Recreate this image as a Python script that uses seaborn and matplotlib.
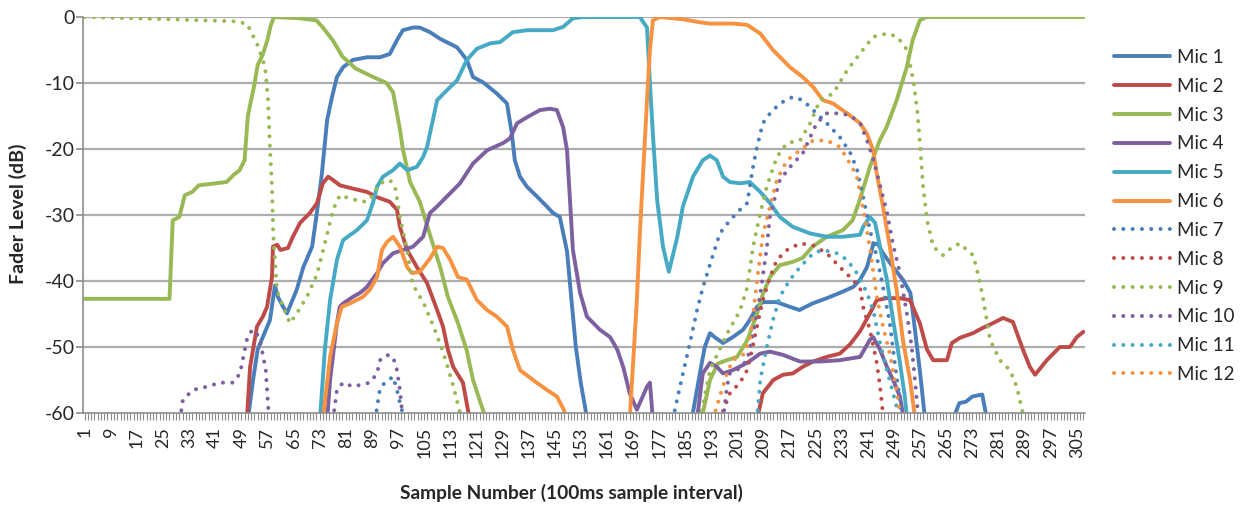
import numpy as np
import pandas as pd
import matplotlib
matplotlib.use("Agg")
import matplotlib.pyplot as plt
from matplotlib.lines import Line2D
import seaborn as sns

nan = np.nan

# ---------------- data (sample number, fader level dB); NaN separates segments ----------------
mic1_x = [51, 52.6, 54, 55.6, 57.8, 59.3, 60.2, 61.8, 63, 66, 68, 70.7, 72.2, 73.7, 75.3, 76.8, 78.3, 80.2, 83.2,
          87.5, 91.5, 94.5, 96.7, 98.5, 101.6, 103.7, 106.8, 109.9, 115.1, 118.1, 120, 123.1, 127.3, 130.4, 131.9,
          132.8, 134.4, 136.5, 139.6, 142.6, 144.5, 146.6, 148.8, 150, 151.5, 153, 155, nan,
          187, 189.5, 191, 192.6, 194, 196.6, 199.6, 202.7, 204.8, 207, 208.8, 213, 217, 220, 224, 228.4, 232.4,
          236.5, 238.6, 240.7, 242.6, 244, 245.6, 248.7, 251.7, 254, 255.4, 257, 258.5, nan,
          267, 269, 271, 273, 276, 277.5]
mic1_y = [-61, -55, -50.4, -48.5, -45.9, -40.7, -42.4, -43.9, -44.9, -41.3, -37.9, -34.8, -29.5, -23.7, -15.6, -12.1,
          -9.1, -7.6, -6.5, -6.1, -6.1, -5.6, -3.5, -2, -1.6, -1.6, -2.3, -3.3, -4.6, -6.5, -9.1, -9.9, -11.6, -13.1,
          -17.7, -21.7, -24.2, -25.7, -27.2, -28.7, -29.7, -30.3, -35.5, -42, -50, -55.4, -61, nan,
          -61, -54, -50, -47.9, -48.5, -49.4, -48.5, -47.4, -45.9, -43.9, -43.2, -43.2, -43.9, -44.4, -43.4, -42.6,
          -41.8, -40.9, -39.8, -37.9, -34.5, -34.3, -35.8, -37.9, -39.8, -41.8, -47.4, -54, -61, nan,
          -61, -58.5, -58.3, -57.5, -57.2, -61]

mic2_x = [50.7, 51.7, 53.8, 55.6, 56.9, 58.4, 58.7, 60, 61, 63.3, 64.8, 67, 70, 72.2, 74, 75.6, 77.1, 79.2, 83.2,
          87.5, 90.6, 94.5, 96.7, 97.6, 99.8, 102.8, 105.9, 109, 110.8, 112.3, 113.9, 116.9, 119, nan,
          207, 208.8, 212, 215, 218, 221, 224.2, 228.4, 232.4, 235.5, 238.6, 241.6, 243.7, 246.8, 250.8, 253.9,
          256.9, 259.1, 261, 265.2, 266.7, 269.2, 273.2, 276.2, 278.4, 282.4, 285.4, 288.5, 290.6, 292.2, 295.8,
          299.8, 302.9, 305, 307]
mic2_y = [-61, -53, -46.9, -45.4, -43.9, -39.4, -34.8, -34.5, -35.3, -35, -33.3, -31.2, -29.7, -28.2, -25.2, -24.2,
          -24.7, -25.5, -26, -26.5, -27.3, -28, -29.2, -31.8, -35.3, -37.9, -40.3, -44.4, -46.9, -50.4, -53, -55.4,
          -61, nan,
          -61, -57, -55, -54.2, -54, -53, -52.2, -51.5, -51, -49.6, -47.6, -44.9, -42.9, -42.6, -42.6, -42.9, -46.4,
          -50.4, -52, -52, -49.4, -48.6, -47.9, -47.1, -46.6, -45.6, -46.2, -50.4, -53, -54.2, -52, -50, -50, -48.5,
          -47.7]

mic3_x = [1, 27, 28, 30, 31.7, 34, 36, 44.5, 46.5, 48.5, 50, 51, 52, 53, 54, 55.5, 57, 58, 59, 67, 72, 74, 77, 80,
          84, 89, 93.5, 95.5, 97.6, 98.5, 100.7, 103.7, 106.8, 110, 112.3, 115.4, 118, 120, 122, 124, nan,
          190, 192.6, 195, 197.8, 200.9, 204, 207, 208.8, 211, 214, 218, 221, 224, 228.4, 233.3, 236.3, 238.5,
          241.6, 244.6, 246.7, 249.8, 252.9, 254.7, 256.9, 259, 307]
mic3_y = [-42.7, -42.7, -30.8, -30.3, -27, -26.5, -25.5, -25, -24, -23.2, -21.7, -15, -12.6, -10.3, -7.3, -5.8,
          -3.5, -1.3, 0, -0.2, -0.5, -1.6, -3.5, -6, -7.8, -9, -10, -11.4, -17, -20, -25, -28, -33, -38, -42.4,
          -46.4, -50.4, -55, -58, -61, nan,
          -61, -55, -52.5, -52, -51.5, -49, -45, -42, -39.4, -37.6, -37.1, -36.5, -34.8, -33.3, -32.3, -30.8,
          -27.7, -22.7, -18.7, -16.7, -12.6, -7.6, -3.5, -0.5, 0, 0]

mic4_x = [75.3, 76.2, 78.3, 79.2, 80.2, 83.2, 85.4, 87.5, 90.6, 92.4, 95.5, 98.5, 101.6, 104.7, 106.8, 109, 112,
          116, 120, 124.3, 129.2, 131.3, 133.5, 136.5, 140.5, 143.6, 145.7, 147.6, 148.8, 149.7, 150.6, 152.8,
          154.9, 158.9, 162, 164.2, 166, 168, 170.2, 171.1, 173.3, 174.2, 175.1, nan,
          188.6, 190.4, 192.6, 194.7, 196.6, 199.6, 204, 208, 211, 215, 220.2, 226.3, 232.4, 238.6, 241.6, 242.6,
          244.7, 246.8, 248.7, 250.8, 252]
mic4_y = [-61, -55, -46.4, -43.9, -43.4, -42.4, -41.8, -40.9, -38.8, -37.3, -35.8, -35.3, -34.8, -33.3, -29.7,
          -28.7, -27.2, -25.2, -22.2, -20.2, -19.1, -18.4, -16.1, -15.2, -14.1, -13.9, -14.1, -16.7, -20.2, -27.7,
          -35.3, -41.8, -45.4, -47.4, -48.5, -50.4, -53, -57, -59.5, -58.5, -56, -55.4, -61, nan,
          -61, -54, -52.4, -53, -54, -53.5, -52.4, -51, -50.7, -51.2, -52.2, -52.2, -52, -51.5, -48.9, -48.5,
          -50.4, -53, -55, -57.5, -61]

mic5_x = [73.1, 74.6, 76.2, 78.3, 80.2, 84.4, 87.5, 89.3, 90.6, 92.4, 95.5, 97.6, 99.8, 102.8, 104.7, 105.9,
          107.7, 109, 112, 115.1, 118.1, 121.2, 125.2, 128.3, 132.2, 136.5, 144.5, 147.6, 150.6, 153.7, 171.1,
          173.3, 174.2, 175.1, 176.4, 178.2, 180, 182.6, 184.3, 187.4, 190.4, 192.6, 194.7, 196.6, 198.7, 201.8,
          204.8, 208, 211, 214, 218, 223.3, 228.4, 233.3, 238.6, 239.5, 241.6, 243.2, 244.7, 246.8, 248.7, 250.8,
          252.3, 253]
mic5_y = [-61, -50.4, -42.9, -36.8, -33.8, -32.3, -30.8, -28.2, -25.7, -24.2, -23.2, -22.2, -23.2, -22.7, -21.2,
          -19.7, -15.6, -12.6, -11.1, -9.6, -6.5, -4.8, -4, -3.8, -2.3, -2, -2, -1.5, -0.2, 0, 0, -1.6, -10,
          -17.7, -27.7, -34.8, -38.6, -33.3, -28.7, -24.2, -21.7, -21, -21.7, -24.2, -25, -25.2, -25, -26.5,
          -28.2, -30.3, -31.8, -32.8, -33.3, -33.3, -33, -31.8, -30.3, -31.2, -34.8, -39.8, -45.9, -52.4, -57.5,
          -61]

mic6_x = [74, 76.2, 78.3, 79.8, 82.3, 86.3, 88.4, 90.6, 92.1, 93.6, 95.5, 97.6, 99.8, 101.3, 103.7, 106.8, 109,
          110.8, 113, 115.4, 118.1, 121.2, 124.3, 127.3, 130.4, 132.2, 134.4, 138.4, 142.6, 145.7, 147.6, 149, nan,
          168, 170.2, 171.1, 173.3, 174.2, 175.1, 177.3, 184.3, 189.5, 192.6, 199.6, 204, 208, 211.9, 217.1, 221,
          224.2, 227.2, 230.3, 234.6, 238.6, 240.7, 242.6, 243.7, 245.6, 247.7, 249.9, 251.7, 253.9, 255.5]
mic6_y = [-61, -51.5, -46.4, -43.9, -43.4, -42.4, -41.3, -39.4, -35.3, -34.1, -33.3, -34.8, -37.9, -38.8, -38.6,
          -36.6, -34.8, -35, -36.8, -39.4, -39.8, -42.9, -44.4, -45.4, -46.9, -50.4, -53.5, -55, -56.5, -57.5,
          -59.3, -61, nan,
          -61, -42.9, -33, -12.6, -5, -0.5, 0, -0.35, -0.8, -1, -1, -1.2, -2.5, -5, -7.6, -9.1, -10.6, -12.6,
          -13.1, -14.6, -16.1, -17.7, -20.2, -23.7, -28.7, -34.8, -41.8, -48.9, -55, -61]

mic7_x = [90, 91.5, 93, 95.5, 96.7, 97.6, 99, nan,
          181.2, 183.4, 186.4, 188.6, 190.4, 192.6, 195.6, 198.7, 201.8, 204, 204.8, 205.8, 207, 208.8, 211, 214,
          218, 221, 224.2, 228.4, 232.4, 235.5, 237.6, 239.5, 241.6, 243.7, 245.6, 247.7, 249.2, 250.8, 251.5]
mic7_y = [-61, -56.3, -55.4, -54.5, -56.5, -58.5, -61, nan,
          -61, -56, -49.5, -44.5, -41, -37.5, -32.8, -30.8, -29.2, -28.2, -25.7, -22.7, -19.7, -16.1, -14.6,
          -13.1, -12.1, -12.6, -14.1, -16.1, -18.2, -20.5, -23, -27.2, -32.3, -36.3, -40.9, -46.4, -52.4, -58, -61]

mic8_x = [195.6, 198.7, 201.8, 204, 205, 207, 208.8, 211, 213.1, 216.2, 220.2, 224.2, 228.4, 232.4, 235.5, 238.6,
          239.5, 241.6, 243.7, 244.7, 245.8]
mic8_y = [-61, -57, -55.4, -53.5, -51.5, -46.9, -42.9, -39.4, -36.8, -35.3, -34.3, -34.6, -35.8, -37.9, -39.4,
          -41, -43.9, -47.4, -52.4, -56, -61]

mic9_x = [1, 27, 46.5, 50.7, 53.8, 56.3, 57.2, 57.8, 58.4, 58.8, 59.9, 61.8, 63.9, 66, 69.1, 72.2, 75, 77.1, 79.2,
          82.3, 86.3, 88.4, 91.5, 94.5, 96.1, 97.6, 99.8, 101.5, 105, 108, 111, 114, 116.5, nan,
          189.5, 192.6, 197.8, 201.8, 204, 205.8, 208, 210, 213.1, 216.2, 220.2, 223.3, 226.3, 230.3, 234.6,
          238.6, 242.6, 246.9, 250, 253, 254.9, 256.1, 257, 257.9, 259.1, 261, 264, 267, 269.2, 271.3, 273.2,
          274.4, 276.2, 278.4, 281.4, 284.5, 286.6, 288.2, 289]
mic9_y = [0, -0.35, -0.65, -1, -4, -7.6, -12.6, -20, -25.7, -33, -41.4, -43.9, -46.4, -44.9, -42.4, -39, -33.5,
          -29.2, -27, -27.5, -28, -27.7, -25.2, -24.7, -25.7, -30.3, -35.3, -40.5, -43.5, -47, -51, -56, -61, nan,
          -61, -53.5, -48, -44.5, -41, -34.8, -29.7, -25.7, -21.2, -19.1, -18.7, -16.1, -12.6, -11.6, -8.1, -5.5,
          -3, -2.5, -3, -5, -9.6, -14.1, -19.7, -25.7, -30.8, -34.8, -36.1, -34.8, -34.3, -35.3, -36.1, -38.3,
          -42.4, -48.9, -52, -53.5, -56, -59.5, -61]

mic10_x = [30.2, 31.1, 34.2, 38.5, 42.5, 46.5, 48.6, 50.7, 52.3, 53.8, 55, 56.5, 57.5, nan,
           77.1, 78.3, 80.2, 83.2, 88.4, 90.6, 91.5, 93.6, 95.5, 96.7, 97.6, 98.5, nan,
           196.6, 197.8, 198.7, 200.9, 204, 205.8, 208, 210, 211, 214, 218, 221, 223.3, 225.3, 228.4, 232.4,
           235.5, 238.6, 240.7, 242.6, 244.7, 246.8, 248.7, 250.8, 252.9, 254.4, 255.4, 256.5]
mic10_y = [-61, -58, -56.5, -56, -55.4, -55.4, -54, -48.9, -47.4, -48, -49.6, -53.5, -61, nan,
           -61, -56.5, -55.4, -56, -55.4, -54, -52, -51.2, -51.5, -53.5, -56.5, -61, nan,
           -61, -56, -54, -53.5, -52, -48, -42, -35, -30, -24.7, -22.2, -20.7, -18.2, -16.1, -14.6, -14.6,
           -14.9, -16.1, -18.7, -21.5, -25.5, -29.5, -34.5, -38.8, -44.9, -50, -55, -61]

mic11_x = [207, 208, 210, 211.9, 214, 217.1, 220.2, 224.2, 227.2, 231.5, 234.6, 237.6, 240.7, 242.6, 244.7, 246.8,
           248.7, 250.8]
mic11_y = [-61, -55, -50, -45.9, -42.4, -39.8, -37.9, -35.8, -35.3, -35.8, -36.8, -38.8, -41.8, -44.4, -49.4,
           -53.5, -57, -61]

mic12_x = [193.5, 195.6, 197.8, 199.6, 202.7, 204.8, 205.8, 207, 208.8, 211, 213.1, 216.2, 220.2, 224.2, 228.4,
           232.4, 235.5, 237.6, 239.5, 241.6, 243.7, 245.6, 247.7, 249.9, 251]
mic12_y = [-61, -57.5, -54, -52, -51.2, -49, -45, -40, -33, -28.7, -24.7, -21.7, -20.2, -18.7, -18.7, -19.7,
           -22.2, -24.2, -29, -35, -42.4, -46.9, -51, -57, -61]

mic_names = [f"Mic {i}" for i in range(1, 13)]
mic_xs = [mic1_x, mic2_x, mic3_x, mic4_x, mic5_x, mic6_x, mic7_x, mic8_x, mic9_x, mic10_x, mic11_x, mic12_x]
mic_ys = [mic1_y, mic2_y, mic3_y, mic4_y, mic5_y, mic6_y, mic7_y, mic8_y, mic9_y, mic10_y, mic11_y, mic12_y]

n_samples = 307
y_ticks = [0, -10, -20, -30, -40, -50, -60]

# ---------------- style ----------------
base_colors = ["#4A7EBB", "#BE4B48", "#98B954", "#7D60A0", "#46AAC5", "#F69240"]
colors = base_colors + base_colors
dotted = [False] * 6 + [True] * 6

sns.set_theme(style="white")
plt.rcParams["font.family"] = ["Lato", "DejaVu Sans"]

W, H = 1243, 513
fig = plt.figure(figsize=(W / 100, H / 100), dpi=100)
L, R, T, B = 83, 1085, 17, 413
ax = fig.add_axes([L / W, 1 - B / H, (R - L) / W, (B - T) / H])

grid_col = "#ADADAD"
for yv in y_ticks[:-1]:
    ax.axhline(yv, color=grid_col, lw=1.6, zorder=0)

SOLID_LW = 2.8
DOT_LW = 2.9
for name, xs, ys, col, dot in zip(mic_names, mic_xs, mic_ys, colors, dotted):
    xs = np.asarray(xs, float)
    ys = np.asarray(ys, float)
    seg = np.cumsum(np.isnan(xs))
    df = pd.DataFrame({"sample": xs, "level": ys, "seg": seg}).dropna()
    kw = dict(lw=DOT_LW, linestyle=(0, (0.01, 2.3))) if dot else dict(lw=SOLID_LW, linestyle="-")
    n_before = len(ax.lines)
    sns.lineplot(data=df, x="sample", y="level", units="seg", estimator=None, color=col,
                 ax=ax, legend=False, **kw)
    for ln in ax.lines[n_before:]:
        ln.set_dash_capstyle("round")
        ln.set_solid_capstyle("round")
        ln.set_solid_joinstyle("round")

ax.set_xlim(0.5, n_samples + 0.5)
ax.set_ylim(-60, 0)
ax.set_yticks(y_ticks)
ax.set_yticklabels([str(v) for v in y_ticks], fontsize=14)
xt = list(range(1, n_samples + 1))
ax.set_xticks(xt)
ax.set_xticklabels([str(v) if (v - 1) % 8 == 0 else "" for v in xt], rotation=90, fontsize=13)
ax.tick_params(axis="x", length=5, width=0.8, color="#8C8C8C", pad=5, direction="out", bottom=True)
ax.tick_params(axis="y", length=5, width=1.2, color="#8C8C8C", pad=1, direction="out", left=True)
ax.set_xlabel("")
ax.set_ylabel("")
for s in ["top", "right"]:
    ax.spines[s].set_visible(False)
for s in ["left", "bottom"]:
    ax.spines[s].set_color("#8C8C8C")
    ax.spines[s].set_linewidth(1.2)

fig.text(571 / W, 1 - 493 / H, "Sample Number (100ms sample interval)", ha="center", va="center",
         fontsize=13.8, fontweight="bold")
fig.text(18 / W, 1 - 214 / H, "Fader Level (dB)", ha="center", va="center", rotation=90,
         fontsize=14, fontweight="bold")

handles = []
for name, col, dot in zip(mic_names, colors, dotted):
    if dot:
        h = Line2D([], [], color=col, lw=DOT_LW, linestyle=(0, (0.01, 2.3)), dash_capstyle="round")
    else:
        h = Line2D([], [], color=col, lw=SOLID_LW, solid_capstyle="round")
    handles.append(h)
fig.legend(handles, mic_names, loc="center left", bbox_to_anchor=(1114 / W, 1 - 216 / H),
           frameon=False, fontsize=13.5, handlelength=3.0, handletextpad=0.35, labelspacing=0.63,
           borderpad=0, borderaxespad=0)

fig.savefig("out.png", dpi=100)
